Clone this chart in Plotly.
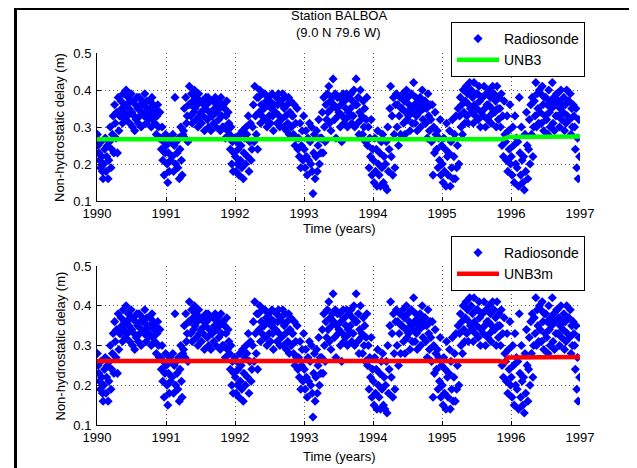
import plotly.graph_objects as go

# Radiosonde non-hydrostatic delay (m), 8 soundings read per month, Jan..Dec
rs_1990 = [
    0.28, 0.25, 0.23, 0.21, 0.19, 0.26, 0.22, 0.18,
    0.16, 0.20, 0.24, 0.27, 0.18, 0.22, 0.25, 0.16,
    0.21, 0.26, 0.30, 0.19, 0.24, 0.28, 0.33, 0.23,
    0.36, 0.31, 0.27, 0.34, 0.23, 0.38, 0.29, 0.33,
    0.33, 0.37, 0.35, 0.31, 0.39, 0.34, 0.36, 0.32,
    0.40, 0.36, 0.33, 0.38, 0.35, 0.31, 0.37, 0.39,
    0.34, 0.30, 0.37, 0.33, 0.29, 0.36, 0.32, 0.38,
    0.35, 0.31, 0.38, 0.33, 0.36, 0.30, 0.34, 0.37,
    0.36, 0.33, 0.39, 0.34, 0.31, 0.37, 0.35, 0.32,
    0.33, 0.37, 0.35, 0.30, 0.38, 0.32, 0.36, 0.34,
    0.31, 0.35, 0.28, 0.33, 0.36, 0.30, 0.27, 0.34,
    0.27, 0.24, 0.30, 0.21, 0.26, 0.17, 0.23, 0.28,
]
rs_1991 = [
    0.25, 0.20, 0.15, 0.23, 0.18, 0.27, 0.21, 0.26,
    0.22, 0.28, 0.18, 0.25, 0.38, 0.20, 0.26, 0.23,
    0.19, 0.27, 0.16, 0.24, 0.30, 0.21, 0.17, 0.28,
    0.29, 0.35, 0.27, 0.38, 0.31, 0.33, 0.26, 0.36,
    0.41, 0.36, 0.33, 0.39, 0.31, 0.37, 0.34, 0.40,
    0.35, 0.38, 0.32, 0.36, 0.30, 0.39, 0.33, 0.37,
    0.34, 0.31, 0.37, 0.33, 0.36, 0.29, 0.35, 0.38,
    0.36, 0.32, 0.38, 0.30, 0.34, 0.37, 0.29, 0.33,
    0.33, 0.37, 0.31, 0.35, 0.38, 0.30, 0.34, 0.36,
    0.37, 0.32, 0.35, 0.29, 0.38, 0.33, 0.30, 0.36,
    0.30, 0.35, 0.27, 0.33, 0.37, 0.29, 0.34, 0.31,
    0.28, 0.24, 0.30, 0.20, 0.26, 0.18, 0.23, 0.27,
]
rs_1992 = [
    0.22, 0.18, 0.26, 0.20, 0.24, 0.17, 0.28, 0.21,
    0.25, 0.19, 0.29, 0.16, 0.23, 0.27, 0.20, 0.30,
    0.28, 0.22, 0.33, 0.18, 0.26, 0.31, 0.21, 0.24,
    0.30, 0.36, 0.26, 0.41, 0.33, 0.28, 0.38, 0.24,
    0.38, 0.34, 0.40, 0.31, 0.36, 0.33, 0.39, 0.35,
    0.35, 0.39, 0.32, 0.37, 0.30, 0.36, 0.38, 0.33,
    0.37, 0.31, 0.35, 0.39, 0.33, 0.29, 0.36, 0.34,
    0.34, 0.38, 0.31, 0.36, 0.39, 0.33, 0.30, 0.37,
    0.32, 0.36, 0.39, 0.30, 0.35, 0.38, 0.33, 0.29,
    0.36, 0.31, 0.38, 0.28, 0.34, 0.37, 0.30, 0.33,
    0.33, 0.28, 0.36, 0.25, 0.31, 0.27, 0.35, 0.24,
    0.27, 0.22, 0.31, 0.19, 0.25, 0.29, 0.21, 0.33,
]
rs_1993 = [
    0.24, 0.19, 0.29, 0.22, 0.17, 0.27, 0.21, 0.31,
    0.26, 0.20, 0.30, 0.18, 0.12, 0.23, 0.28, 0.16,
    0.22, 0.29, 0.18, 0.25, 0.32, 0.20, 0.27, 0.23,
    0.27, 0.34, 0.23, 0.38, 0.30, 0.26, 0.36, 0.32,
    0.39, 0.34, 0.41, 0.31, 0.37, 0.29, 0.35, 0.38,
    0.43, 0.36, 0.32, 0.39, 0.27, 0.35, 0.38, 0.33,
    0.34, 0.38, 0.30, 0.36, 0.26, 0.33, 0.39, 0.31,
    0.37, 0.32, 0.35, 0.39, 0.30, 0.34, 0.38, 0.33,
    0.35, 0.39, 0.31, 0.37, 0.33, 0.40, 0.30, 0.36,
    0.43, 0.36, 0.31, 0.38, 0.28, 0.34, 0.40, 0.32,
    0.33, 0.28, 0.37, 0.30, 0.35, 0.26, 0.32, 0.38,
    0.25, 0.30, 0.19, 0.27, 0.22, 0.32, 0.17, 0.24,
]
rs_1994 = [
    0.21, 0.15, 0.27, 0.18, 0.24, 0.14, 0.29, 0.20,
    0.17, 0.23, 0.14, 0.26, 0.19, 0.28, 0.15, 0.22,
    0.14, 0.20, 0.26, 0.13, 0.30, 0.18, 0.24, 0.35,
    0.41, 0.22, 0.33, 0.17, 0.38, 0.28, 0.19, 0.36,
    0.39, 0.30, 0.36, 0.25, 0.33, 0.38, 0.28, 0.35,
    0.35, 0.39, 0.31, 0.37, 0.28, 0.34, 0.40, 0.32,
    0.38, 0.33, 0.36, 0.29, 0.35, 0.39, 0.31, 0.34,
    0.42, 0.36, 0.31, 0.38, 0.33, 0.29, 0.35, 0.37,
    0.34, 0.38, 0.30, 0.36, 0.40, 0.32, 0.35, 0.37,
    0.37, 0.31, 0.35, 0.27, 0.39, 0.33, 0.29, 0.36,
    0.32, 0.26, 0.36, 0.17, 0.30, 0.23, 0.34, 0.28,
    0.24, 0.29, 0.19, 0.27, 0.21, 0.32, 0.17, 0.25,
]
rs_1995 = [
    0.20, 0.15, 0.27, 0.18, 0.24, 0.14, 0.31, 0.22,
    0.17, 0.23, 0.29, 0.14, 0.26, 0.19, 0.32, 0.16,
    0.22, 0.28, 0.16, 0.33, 0.19, 0.25, 0.35, 0.20,
    0.33, 0.38, 0.30, 0.36, 0.28, 0.40, 0.34, 0.31,
    0.37, 0.41, 0.33, 0.39, 0.31, 0.36, 0.42, 0.35,
    0.40, 0.34, 0.38, 0.31, 0.42, 0.36, 0.33, 0.39,
    0.35, 0.39, 0.32, 0.41, 0.37, 0.30, 0.34, 0.38,
    0.38, 0.33, 0.41, 0.35, 0.30, 0.39, 0.36, 0.32,
    0.36, 0.40, 0.33, 0.38, 0.31, 0.35, 0.41, 0.34,
    0.39, 0.34, 0.37, 0.30, 0.41, 0.35, 0.32, 0.38,
    0.35, 0.30, 0.39, 0.25, 0.33, 0.22, 0.37, 0.28,
    0.26, 0.21, 0.33, 0.18, 0.29, 0.24, 0.36, 0.20,
]
rs_1996 = [
    0.22, 0.17, 0.30, 0.25, 0.15, 0.33, 0.20, 0.27,
    0.19, 0.26, 0.14, 0.38, 0.23, 0.17, 0.30, 0.21,
    0.15, 0.22, 0.13, 0.28, 0.18, 0.34, 0.25, 0.16,
    0.24, 0.32, 0.20, 0.36, 0.28, 0.38, 0.22, 0.30,
    0.37, 0.33, 0.42, 0.30, 0.39, 0.35, 0.31, 0.40,
    0.34, 0.39, 0.31, 0.41, 0.36, 0.29, 0.38, 0.33,
    0.38, 0.32, 0.36, 0.28, 0.40, 0.34, 0.30, 0.37,
    0.35, 0.42, 0.31, 0.38, 0.29, 0.36, 0.33, 0.39,
    0.39, 0.33, 0.37, 0.30, 0.35, 0.40, 0.32, 0.36,
    0.34, 0.38, 0.29, 0.36, 0.31, 0.40, 0.33, 0.37,
    0.37, 0.32, 0.39, 0.28, 0.35, 0.30, 0.36, 0.33,
    0.30, 0.24, 0.35, 0.19, 0.27, 0.16, 0.32, 0.22,
]
years = [1990, 1991, 1992, 1993, 1994, 1995, 1996]
per_month = 8

# model curves (step changes)
unb3_t = [1990.0, 1995.88, 1995.97, 1997.0]
unb3_v = [0.267, 0.267, 0.273, 0.274]
unb3m_t = [1990.0, 1995.82, 1995.92, 1995.95, 1997.0]
unb3m_v = [0.261, 0.261, 0.258, 0.270, 0.271]

year_ticks = [1990, 1991, 1992, 1993, 1994, 1995, 1996, 1997]
delay_ticks = [0.1, 0.2, 0.3, 0.4, 0.5]

rs_v = rs_1990 + rs_1991 + rs_1992 + rs_1993 + rs_1994 + rs_1995 + rs_1996
# sounding epochs: 8 per month
rs_t = [y + (m + (k + 0.5) / per_month) / 12
        for y in years for m in range(12) for k in range(per_month)]

# the page body has an 8px margin, so the figure starts at (8, 8)
OFF = 8
W, H = 637 - OFF, 468 - OFF
FONT = "Arial, Liberation Sans, Helvetica, sans-serif"
FS = 13


def px_x(x):
    return (x - OFF) / W


def px_y(y):
    return 1 - (y - OFF) / H


fig = go.Figure()
marker = dict(symbol="diamond", size=7, color="#0000ff", line=dict(width=0))

fig.add_trace(go.Scatter(x=rs_t, y=rs_v, mode="markers", marker=marker,
                         name="Radiosonde", xaxis="x", yaxis="y", legend="legend"))
fig.add_trace(go.Scatter(x=unb3_t, y=unb3_v, mode="lines", name="UNB3",
                         line=dict(color="#00ff00", width=4.5),
                         xaxis="x", yaxis="y", legend="legend"))
fig.add_trace(go.Scatter(x=rs_t, y=rs_v, mode="markers", marker=marker,
                         name="Radiosonde", xaxis="x2", yaxis="y2", legend="legend2"))
fig.add_trace(go.Scatter(x=unb3m_t, y=unb3m_v, mode="lines", name="UNB3m",
                         line=dict(color="#ff0000", width=4.5),
                         xaxis="x2", yaxis="y2", legend="legend2"))

xdom = [px_x(97), px_x(580)]
ax_common = dict(showline=True, linecolor="black", linewidth=1, mirror=False,
                 ticks="inside", ticklen=4, tickcolor="black", automargin=False,
                 showgrid=True, gridcolor="#555555", griddash="1px,3px", gridwidth=1,
                 zeroline=False, tickfont=dict(size=FS, color="black", family=FONT))
xax = dict(ax_common, range=[1990, 1997], tickvals=year_ticks,
           ticktext=[str(v) for v in year_ticks], domain=xdom)
yax = dict(ax_common, range=[0.1, 0.5], tickvals=delay_ticks,
           ticktext=["%.1f" % v for v in delay_ticks], ticklabelstandoff=2)

legend_common = dict(bgcolor="white", bordercolor="black", borderwidth=1,
                     font=dict(size=14, color="black", family=FONT),
                     xanchor="left", yanchor="top", itemwidth=42,
                     tracegroupgap=0)

fig.update_layout(
    width=W, height=H,
    margin=dict(l=0, r=0, t=0, b=0, pad=0, autoexpand=False),
    paper_bgcolor="white", plot_bgcolor="white",
    font=dict(family=FONT, size=FS, color="black"),
    xaxis=dict(xax, anchor="y"),
    yaxis=dict(yax, anchor="x", domain=[px_y(201), px_y(53)]),
    xaxis2=dict(xax, anchor="y2"),
    yaxis2=dict(yax, anchor="x2", domain=[px_y(425), px_y(266)]),
    legend=dict(legend_common, x=px_x(451), y=px_y(22)),
    legend2=dict(legend_common, x=px_x(451), y=px_y(236)),
    showlegend=True,
)

cx = (xdom[0] + xdom[1]) / 2
texts = [
    ("Station BALBOA", cx, px_y(15), 0),
    ("(9.0 N 79.6 W)", cx, px_y(32), 0),
    ("Time (years)", cx, px_y(228), 0),
    ("Time (years)", cx, px_y(456), 0),
    ("Non-hydrostatic delay (m)", px_x(60), px_y(127), -90),
    ("Non-hydrostatic delay (m)", px_x(60), px_y(345.5), -90),
]
for txt, x, y, ang in texts:
    fig.add_annotation(text=txt, x=x, y=y, xref="paper", yref="paper",
                       xanchor="center", yanchor="middle", showarrow=False,
                       textangle=ang, font=dict(size=FS, color="black", family=FONT))

# figure frame (open at the bottom, as in the screenshot)
fig.add_shape(type="rect", xref="paper", yref="paper",
              x0=px_x(15.5), x1=px_x(631.5), y0=-0.2, y1=px_y(8.5),
              line=dict(color="black", width=3), fillcolor="rgba(0,0,0,0)", layer="above")

fig.write_html("out.html")
